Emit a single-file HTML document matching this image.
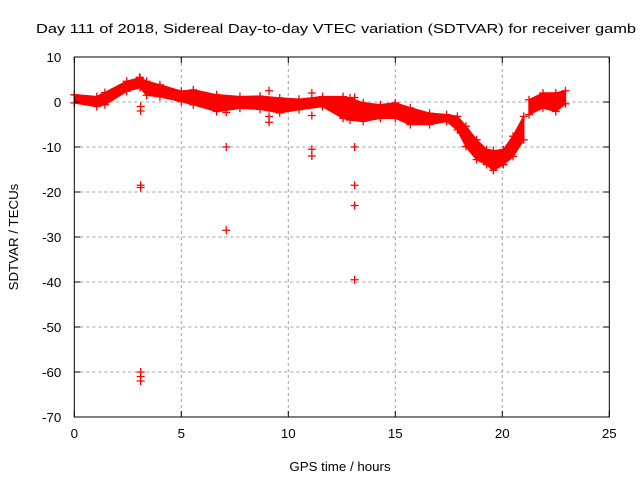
<!DOCTYPE html>
<html><head><meta charset="utf-8"><style>
html,body{margin:0;padding:0;background:#fff}
svg{display:block;font-family:"Liberation Sans",sans-serif}
</style></head><body>
<svg id="chart" width="640" height="480" viewBox="0 0 640 480" xmlns="http://www.w3.org/2000/svg">
<rect width="640" height="480" fill="#fff"/>
<text x="36" y="33" font-size="13.3" textLength="600" lengthAdjust="spacingAndGlyphs">Day 111 of 2018, Sidereal Day-to-day VTEC variation (SDTVAR) for receiver gamb</text>
<g id="grid"></g>
<g id="marks"></g>
<g id="axes"></g>
<text x="340" y="471" font-size="13.3" text-anchor="middle">GPS time / hours</text>
<text transform="translate(18,237) rotate(-90)" font-size="13.3" text-anchor="middle">SDTVAR / TECUs</text>
</svg>
<script>
const xTicks=[0,5,10,15,20,25];
const yTicks=[10,0,-10,-20,-30,-40,-50,-60,-70];
const bandHours=[0,1.05,1.43,2.45,3.07,3.38,4.0,5.0,5.56,6.65,7.74,8.68,9.6,10.5,11.6,12.56,12.88,13.5,14.3,15.0,15.7,16.6,17.4,17.9,18.3,18.8,19.27,19.58,20.05,20.5,21.0];
const bandHigh=[1.6,1.2,2.1,4.6,5.4,4.6,3.8,2.4,2.7,1.6,1.2,1.3,0.9,0.6,1.2,1.2,0.9,-0.2,-0.6,-0.2,-1.3,-2.5,-2.8,-3.2,-5.4,-8.4,-10.6,-10.8,-10.6,-7.6,-3.2];
const bandLow=[-0.2,-1.0,-0.6,2.4,3.2,1.5,1.2,0.1,-0.6,-2.1,-1.4,-1.6,-2.4,-1.7,-1.0,-3.6,-4.0,-4.3,-3.6,-3.6,-5.0,-5.0,-4.3,-6.2,-9.9,-12.8,-13.9,-15.2,-13.9,-12.1,-8.4];
const band2Hours=[21.25,21.9,22.5,22.95];
const band2High=[0.5,2.0,2.0,2.5];
const band2Low=[-2.8,-1.3,-2.1,-0.4];
const outlierHours=[3.05,3.1,3.1,3.1,3.1,3.1,3.1,3.1,7.1,7.1,7.1,9.1,9.1,9.1,11.1,11.1,11.1,11.1,13.1,13.1,13.1,13.1,13.1,13.1];
const outlierValues=[5.5,-1,-2,-18.5,-19,-60,-61,-62,-10,-28.5,-2.3,2.5,-3.2,-4.5,2,-10.5,-12,-3,1,-10,-18.5,-23,-39.5,-0.6];
const NS="http://www.w3.org/2000/svg";
const L=74.3,R=609.3,T=57,B=417;
const X=h=>L+(h-0)/(25-0)*(R-L);
const Y=v=>T+(10-v)/(10-(-70))*(B-T);
function mk(tag,attrs,parent){const e=document.createElementNS(NS,tag);for(const k in attrs)e.setAttribute(k,attrs[k]);parent.appendChild(e);return e;}
const grid=document.getElementById('grid'),axes=document.getElementById('axes'),marks=document.getElementById('marks');
xTicks.forEach(t=>{
 if(t>0&&t<25){const g=mk('line',{x1:X(t),x2:X(t),y1:T,y2:B,stroke:'#a0a0a0','stroke-dasharray':'3,3','stroke-width':1},grid);
 
 }
 const tl=mk('line',{x1:X(t),x2:X(t),y1:B,y2:B-6,stroke:'#000'},axes);
 
 
 const tt=mk('line',{x1:X(t),x2:X(t),y1:T,y2:T+6,stroke:'#000'},axes);
 
 
 const tx=mk('text',{x:X(t),y:B+21,'font-size':13.3,'text-anchor':'middle'},axes);tx.textContent=t;
 
 
});
yTicks.forEach(t=>{
 if(t<10&&t>-70){const g=mk('line',{x1:L,x2:R,y1:Y(t),y2:Y(t),stroke:'#a0a0a0','stroke-dasharray':'3,3','stroke-width':1},grid);
 
 }
 const tl=mk('line',{x1:L,x2:L+6,y1:Y(t),y2:Y(t),stroke:'#000'},axes);
 
 
 const tr=mk('line',{x1:R,x2:R-6,y1:Y(t),y2:Y(t),stroke:'#000'},axes);
 
 
 const tx=mk('text',{x:L-13,y:Y(t)+5,'font-size':13.3,'text-anchor':'end'},axes);tx.textContent=t;
 
 
});
const frame=mk('rect',{x:L,y:T,width:R-L,height:B-T,fill:'none',stroke:'#000'},axes);


function band(hs,hi,lo){
 let d='M'+hs.map((h,i)=>X(h)+','+Y(hi[i])).join(' L');
 d+=' L'+hs.slice().reverse().map((h,j)=>{const i=hs.length-1-j;return X(h)+','+Y(lo[i]);}).join(' L')+' Z';
 const p=mk('path',{d:d,fill:'#ff0000',stroke:'#ff0000','stroke-width':1.5,'stroke-linejoin':'round'},marks);
 
 
 hs.forEach((h,i)=>{[hi[i],lo[i]].forEach(v=>plus(h,v,'band-edge-point'));});
}
function plus(h,v,name){
 const x=X(h),y=Y(v);
 const p=mk('path',{d:`M${x-4},${y}H${x+4}M${x},${y-4}V${y+4}`,stroke:'#ff0000','stroke-width':1.3,fill:'none'},marks);
 
 
}
band(bandHours,bandHigh,bandLow);
band(band2Hours,band2High,band2Low);
outlierHours.forEach((h,i)=>plus(h,outlierValues[i],'outlier-point'));
</script>
</body></html>
